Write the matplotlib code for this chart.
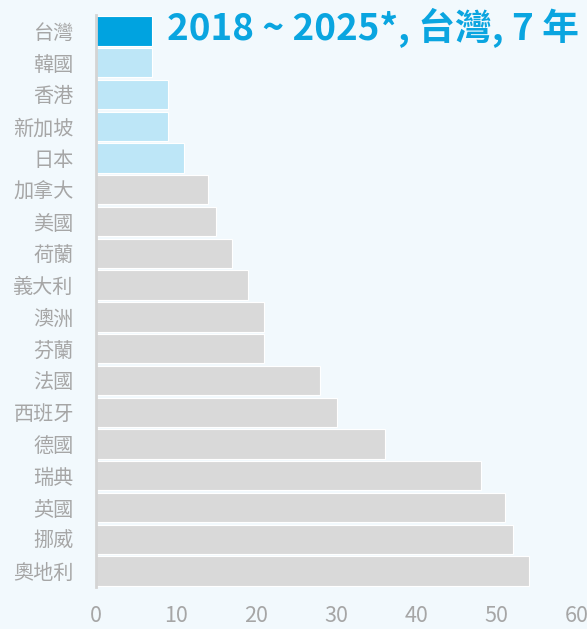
import matplotlib
matplotlib.use("Agg")
import matplotlib.pyplot as plt

plt.rcParams['font.family'] = ['Noto Sans CJK TC', 'DejaVu Sans']

countries = ["台灣", "韓國", "香港", "新加坡", "日本", "加拿大", "美國", "荷蘭", "義大利",
             "澳洲", "芬蘭", "法國", "西班牙", "德國", "瑞典", "英國", "挪威", "奧地利"]
years = [7, 7, 9, 9, 11, 14, 15, 17, 19, 21, 21, 28, 30, 36, 48, 51, 52, 54]
group = ["hl", "asia", "asia", "asia", "asia"] + ["other"] * 13
colors = {"hl": "#00a3e0", "asia": "#bde6f7", "other": "#d9d9d9"}
title = "2018 ~ 2025*, 台灣, 7 年"

bg = "#f2f9fd"
fig = plt.figure(figsize=(5.87, 6.29), dpi=100, facecolor=bg)
ax = fig.add_axes([96 / 587, 1 - 587 / 629, 481 / 587, 572 / 629])
ax.set_facecolor(bg)

ypos = list(range(len(countries)))
ax.barh(ypos, years, height=0.92, color=[colors[g] for g in group],
        edgecolor="white", linewidth=0.8)
ax.set_ylim(len(countries) - 0.5, -0.5)
ax.set_xlim(0, 60)
ax.set_yticks(ypos)
ax.set_yticklabels(countries, fontsize=14.5, color="#a6a6a6")
ax.set_xticks(range(0, 61, 10))
ax.tick_params(axis="x", labelsize=15.5, colors="#a6a6a6", length=0, pad=13)
ax.tick_params(axis="y", length=0, pad=16)
for s in ["top", "right", "bottom"]:
    ax.spines[s].set_visible(False)
ax.spines["left"].set_color("#d4d4d4")
ax.spines["left"].set_linewidth(2)

fig.text(167 / 587, 1 - 28 / 629, title, fontsize=26.5, fontweight="bold",
         color="#0aa5e0", va="center", ha="left")

fig.savefig("out.png", dpi=100, facecolor=bg)
